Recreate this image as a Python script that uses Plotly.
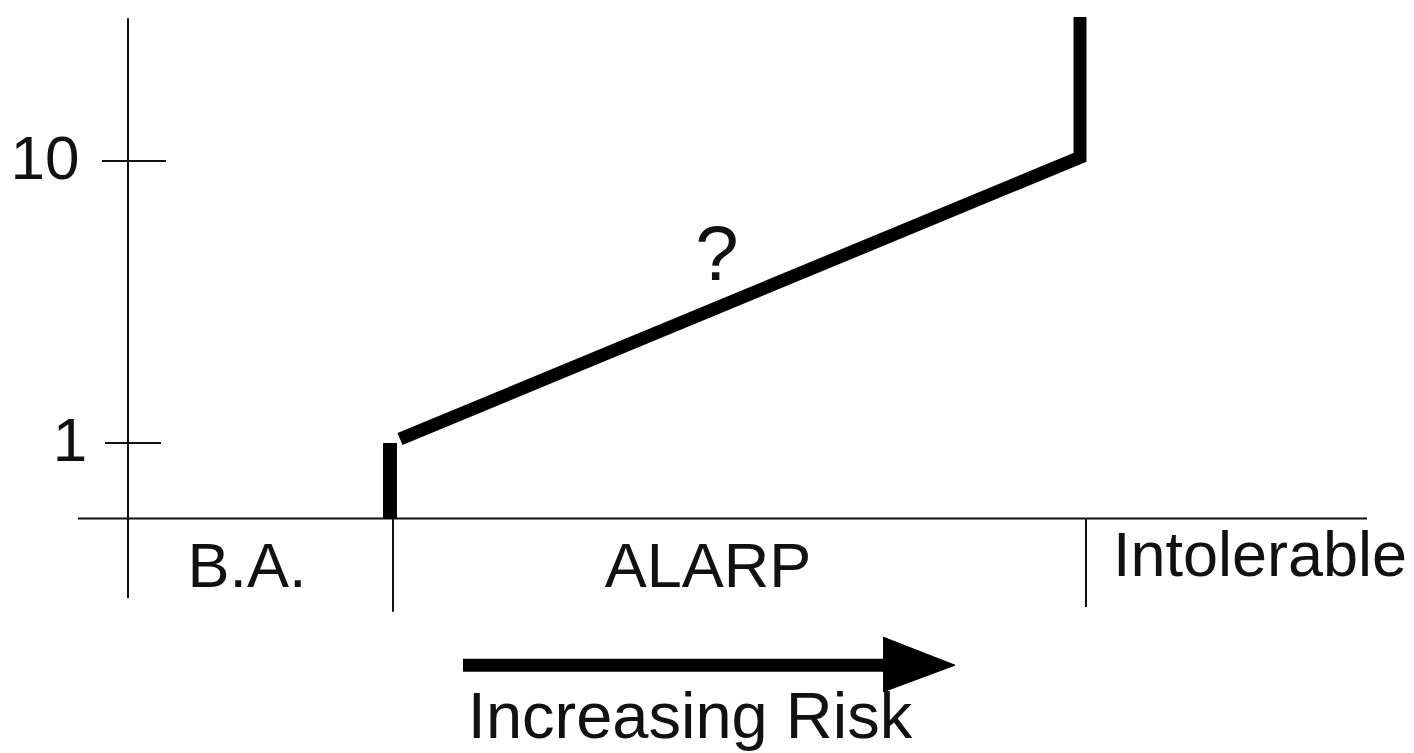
import plotly.graph_objects as go

# ---- data (risk axis in arbitrary units, factor axis logarithmic) ----
zone_labels = ["B.A.", "ALARP", "Intolerable"]
zone_label_x = [247, 708, 1260]
zone_label_y = [0.351, 0.351, 0.384]
zone_bounds = [393, 1086]
zone_bound_bottom = [0.252, 0.262]

baseline = 0.54            # factor value where the risk axis sits
risk_axis_x = [78, 1367]
factor_axis_x = 128
factor_axis_y = [0.282, 32.1]

tick_values = [1, 10]
tick_labels = ["1", "10"]
tick_label_y = [0.976, 9.76]
tick_left = [105, 102]
tick_right = [161, 166]
tick_label_x = [70, 45]

# ALARP criterion curve
step_x = [390, 390]
step_y = [baseline, 1.0]
curve_x = [400, 1080, 1080]
curve_y = [1.033, 10.3, 32.4]

question_x, question_y = 717, 4.42

arrow_shaft_x = [463, 900]
arrow_y = 0.163
arrow_head_x = [883, 955, 883]
arrow_head_y = [0.205, 0.163, 0.131]
arrow_label = "Increasing Risk"
arrow_label_x, arrow_label_y = 690, 0.1023

FONT = "Liberation Sans, Arial, sans-serif"
INK = "#111111"

fig = go.Figure()

def line(x, y, w, color=INK):
    fig.add_trace(go.Scatter(x=x, y=y, mode="lines",
                             line=dict(color=color, width=w),
                             hoverinfo="skip", showlegend=False))

def text(x, y, labels, size):
    fig.add_trace(go.Scatter(x=x, y=y, mode="text", text=labels,
                             textposition="middle center", cliponaxis=False,
                             textfont=dict(family=FONT, size=size, color=INK),
                             hoverinfo="skip", showlegend=False))

# axes
line(risk_axis_x, [baseline, baseline], 2)
line([factor_axis_x, factor_axis_x], factor_axis_y, 2)
for v, l, r in zip(tick_values, tick_left, tick_right):
    line([l, r], [v, v], 2)

# zone boundaries
for bx, bb in zip(zone_bounds, zone_bound_bottom):
    line([bx, bx], [baseline, bb], 2)

# curve
line(step_x, step_y, 14, "#000000")
line(curve_x, curve_y, 13, "#000000")

# arrow
line(arrow_shaft_x, [arrow_y, arrow_y], 13, "#000000")
fig.add_trace(go.Scatter(x=arrow_head_x, y=arrow_head_y, mode="lines",
                         fill="toself", fillcolor="#000000",
                         line=dict(color="#000000", width=1),
                         hoverinfo="skip", showlegend=False))

# texts
text(tick_label_x, tick_label_y, tick_labels, 62)
text(zone_label_x, zone_label_y, zone_labels, 63)
text([question_x], [question_y], ["?"], 78)
text([arrow_label_x], [arrow_label_y], [arrow_label], 65)

fig.update_layout(
    width=1414, height=753, autosize=False,
    margin=dict(l=0, r=0, t=0, b=0, pad=0),
    paper_bgcolor="white", plot_bgcolor="white",
    xaxis=dict(range=[0, 1414], visible=False, fixedrange=True),
    yaxis=dict(type="log", range=[-1.0993, 1.5709], visible=False, fixedrange=True),
)

fig.write_html(
    "out.html",
    config={"displayModeBar": False, "staticPlot": True},
    post_script="document.body.style.margin='0';document.body.style.overflow='hidden';",
)
